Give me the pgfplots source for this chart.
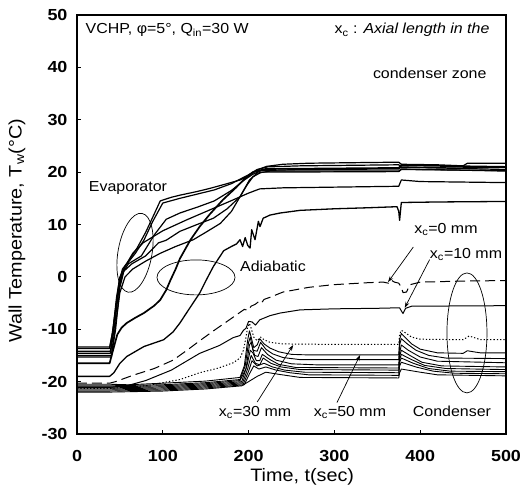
\documentclass[border=0pt]{standalone}
\usepackage{fontspec}
\setmainfont{Liberation Sans}[FakeStretch=1.1]
\newfontfamily\tickfont{Liberation Sans}[FakeStretch=1.12]
\usepackage{pgfplots}
\pgfplotsset{compat=1.18}
\usetikzlibrary{arrows.meta}
\begin{document}
\begin{tikzpicture}
\begin{axis}[
  name=ax,
  scale only axis, width=429pt, height=419pt,
  xmin=0, xmax=500, ymin=-30, ymax=50,
  xtick={0,100,...,500}, ytick={-30,-20,...,50},
  tick align=inside, tick pos=left,
  major tick length=4pt,
  axis line style={line width=1.2pt},
  every tick/.style={line width=0.8pt, black},
  /pgf/number format/assume math mode=true,
  ticklabel style={font=\tickfont\fontsize{16}{16}\selectfont\bfseries},
  yticklabel style={xshift=-6pt},
  xticklabel style={yshift=-13pt},
  xlabel={Time, t(sec)},
  ylabel={Wall Temperature, T\textsubscript{w}(°C)},
  every axis x label/.style={at={(axis description cs:0.525,-0.1026)}, anchor=center, font=\fontsize{18}{18}\selectfont},
  every axis y label/.style={at={(axis description cs:-0.1399,0.485)}, rotate=90, anchor=center, font=\fontsize{18}{18}\selectfont},
  every axis plot/.append style={black, line width=1pt, line join=round, no markers},
  clip=true,
]
% Evaporator
\addplot[line width=1.2pt] coordinates {(0,-13.4)(38,-13.4)(41,-11)(45,-6)(49,-1)(53,1.5)(60,3)(70,5.5)(80,8.5)(90,12)(97,14.5)(110,15.2)(120,15.6)(140,16.3)(155,16.9)(175,17.8)(190,18.5)(200,19.3)(210,20.4)(221,21.1)(240,21.5)(270,21.7)(320,21.8)(375,21.9)(378,21.5)(420,21.4)(450,21.2)(455,21.7)(500,21.7)};
\addplot[line width=1.2pt] coordinates {(0,-13.7)(38,-13.7)(42,-10)(46,-4)(50,0)(56,2)(68,4.5)(78,7)(88,10.5)(100,14.1)(120,15)(140,15.8)(160,16.6)(180,17.8)(200,19.5)(210,20.5)(222,21)(260,21.2)(375,21.4)(378,20.9)(440,20.8)(500,20.9)};
\addplot[line width=1.2pt] coordinates {(0,-14.2)(39,-14.2)(43,-9)(48,-3)(52,0.5)(60,2.5)(75,4)(90,8)(104,11)(120,12.2)(140,13.3)(160,14.5)(180,16.5)(195,18.5)(205,19.6)(215,20.3)(260,20.5)(375,20.6)(378,21)(420,20.8)(500,20.5)};
\addplot[line width=1.2pt] coordinates {(0,-14.6)(39,-14.6)(44,-9)(49,-2)(54,1)(64,2.5)(80,4)(95,6.5)(104,7)(120,8.7)(140,10)(159,11.2)(175,13)(190,15.3)(201,18.5)(210,19.8)(225,20.2)(375,20.2)(378,20.6)(500,20.2)};
\addplot[line width=1.2pt] coordinates {(0,-15)(40,-15)(45,-9)(50,-3)(56,0)(65,1.5)(80,3)(97,4.5)(115,5.8)(135.6,7.1)(150,8.5)(167,10.2)(180,12.5)(190,15.3)(198,17.5)(205,19.1)(215,20)(375,20.1)(378,20.5)(500,20.3)};
\addplot[line width=1.2pt] coordinates {(0,-15.3)(40,-15.3)(45,-10)(50,-2)(56,2)(65,4.5)(77,6.5)(100,8.8)(128,10.9)(155,12.8)(182,14.7)(200,16)(213,16.8)(240,17)(375,17.3)(378,18.5)(400,18.2)(500,18)};
% Adiabatic
\addplot[line width=1.7pt] coordinates {(0,-16.5)(38,-16.5)(42,-14)(47,-11)(52,-9.7)(58,-8.8)(68,-7.8)(78,-6.9)(90,-5.5)(97,-4.4)(104,-2.5)(109,-0.6)(115,1.5)(120,3.5)(132,7)(143,9.6)(155,12)(170,14.7)(185,17)(194,18.5)(205,20)(220,20.6)(375,20.8)(378,21.3)(500,21)};
\addplot[line width=1.3pt] coordinates {(0,-19)(38,-19)(43,-18.3)(50,-16.5)(58,-15.2)(78,-13.3)(101,-12)(112,-10.5)(120,-8.8)(130,-6.3)(143,-3.1)(150,-0.8)(159,2)(171,5)(180,5.8)(186,6.3)(190,7.1)(193,5.8)(196,7.5)(199,6)(201.7,5.5)(203.6,9)(207.5,7.1)(211.4,10.6)(213.3,9.6)(217,11.2)(225,11.8)(237,12.2)(260,12.7)(300,13)(340,13.2)(373,13.4)(375,12.5)(376,10.8)(377,12.5)(378,14.2)(420,14.3)(500,14.4)};
% x_c = 0 mm (dashed)
\addplot[line width=1pt, dash pattern=on 10pt off 5pt] coordinates {(0,-20.3)(38,-20.3)(45,-20)(65,-18.8)(90,-17.5)(112,-15.9)(130,-13.8)(143,-12.2)(160,-10.2)(182,-7.7)(195,-6.2)(199,-6.4)(203,-5.6)(208,-5.2)(212,-4.7)(215,-5)(218,-4.3)(225,-3.9)(240,-2.9)(270,-2)(298,-1.5)(340,-1.1)(357,-1)(363,-1.2)(366,-0.6)(370,-1)(375,-1.2)(378,-2)(380,-3)(384,-2.9)(388,-1.5)(400,-1)(450,-0.8)(500,-0.7)};
% x_c = 10 mm
\addplot[line width=1pt] coordinates {(0,-21.1)(38,-21.1)(60,-20.7)(80,-19.8)(110,-17.8)(143,-14.6)(166,-13.1)(182,-11.6)(190,-11.2)(194,-10.2)(197,-9.8)(200,-8.5)(204,-8.6)(208,-9.2)(213,-8.2)(225,-7.4)(237,-6.9)(260,-6.3)(300,-6.1)(350,-6)(376,-5.9)(378,-6.5)(380,-7)(383,-6)(390,-5.6)(500,-5.5)};
% x_c = 30 mm (dotted)
\addplot[line width=1pt, dash pattern=on 1.3pt off 2pt] coordinates {(0,-21.3)(38,-21.3)(80,-20.8)(120,-19.6)(143,-18.3)(165,-17.4)(182,-16.4)(190,-15.5)(194,-14)(197,-11.5)(199,-9.5)(201,-8.9)(203,-9.8)(206,-11.5)(210,-12.2)(214,-11.5)(218,-12)(225,-12.5)(240,-12.8)(300,-12.9)(375,-12.9)(376,-11)(378,-10.2)(382,-10.6)(390,-11.5)(400,-11.9)(450,-12)(457,-11.3)(463,-11.6)(470,-12)(500,-12)};
% Condenser
\addplot[line width=0.9pt] coordinates {(0,-20.5)(38,-20.5)(60,-20.6)(100,-20.3)(150,-19.9)(190,-19.2)(195,-17)(199,-12)(201,-10.3)(203,-11.5)(206,-13.5)(210,-13)(213,-11.8)(218,-12.8)(225,-13.6)(235,-14.3)(250,-14.8)(270,-14.9)(375,-14.9)(376,-12)(378,-10.8)(382,-11.5)(390,-12.8)(400,-13.8)(420,-14.5)(450,-14.6)(455,-14.1)(462,-14.3)(470,-14.5)(500,-14.5)};
\addplot[line width=0.9pt] coordinates {(0,-20.8)(38,-20.8)(100,-20.6)(150,-20.2)(190,-19.6)(196,-17)(200,-12.5)(202,-11.5)(205,-14)(210,-14.2)(214,-12.5)(220,-13.8)(228,-14.7)(240,-15.4)(260,-15.8)(375,-15.8)(376,-13)(378,-11.8)(385,-12.8)(395,-14)(410,-15)(430,-15.5)(500,-15.6)};
\addplot[line width=0.9pt] coordinates {(0,-21)(38,-21)(100,-20.8)(150,-20.4)(190,-19.8)(197,-17.5)(201,-13)(203,-12.5)(207,-15)(211,-15.2)(215,-13.5)(222,-14.8)(232,-15.9)(250,-16.6)(280,-16.8)(375,-16.8)(376,-14.5)(378,-13)(386,-14)(400,-15.3)(420,-16.1)(500,-16.4)};
\addplot[line width=0.9pt] coordinates {(0,-21.2)(38,-21.2)(100,-21)(150,-20.6)(192,-20)(198,-17)(202,-14)(205,-14.5)(209,-16)(213,-16)(216,-14.8)(225,-15.8)(235,-16.7)(255,-17.3)(375,-17.4)(376,-15.2)(378,-14)(388,-15)(402,-16.3)(425,-17)(500,-17.2)};
\addplot[line width=0.9pt] coordinates {(0,-21.4)(38,-21.4)(100,-21.2)(150,-20.8)(193,-20.2)(199,-17.5)(203,-15)(208,-16.5)(213,-16.8)(217,-15.5)(226,-16.5)(238,-17.2)(260,-17.7)(375,-17.8)(376,-15.8)(378,-14.8)(390,-15.8)(405,-16.9)(430,-17.5)(500,-17.7)};
\addplot[line width=0.9pt] coordinates {(0,-21.6)(38,-21.6)(100,-21.4)(150,-21)(194,-20.4)(200,-18)(204,-16)(210,-17)(218,-16.5)(228,-17.2)(242,-17.8)(265,-18.2)(375,-18.3)(376,-16.3)(378,-15.5)(392,-16.5)(410,-17.5)(435,-18)(500,-18.1)};
\addplot[line width=0.9pt] coordinates {(0,-21.8)(38,-21.8)(100,-21.6)(150,-21.2)(195,-20.6)(201,-18.5)(206,-17)(212,-17.6)(220,-17.2)(232,-17.8)(248,-18.3)(270,-18.7)(375,-18.8)(376,-17)(378,-16.3)(395,-17.2)(415,-18)(440,-18.4)(500,-18.5)};
\addplot[line width=0.9pt] coordinates {(0,-22)(38,-22)(100,-21.8)(150,-21.4)(192,-20.8)(200,-20)(210,-19)(220,-18.2)(235,-18.6)(260,-19.2)(375,-19.3)(376,-18.3)(378,-17.6)(400,-18.2)(420,-18.7)(500,-18.9)};
% annotations
\begin{scope}[font=\fontsize{14.5}{16}\selectfont]
\node[anchor=west] at (axis cs:6,47.1) {VCHP, φ=5°, Q\textsubscript{in}=30 W};
\node[anchor=east] at (axis cs:484.8,47.1) {x\textsubscript{c} : \textit{Axial length in the}};
\node[anchor=east] at (axis cs:481.4,38.9) {condenser zone};
\node at (axis cs:59.4,17.0) {Evaporator};
\node at (axis cs:228.4,2.1) {Adiabatic};
\node at (axis cs:430,9.0) {x\textsubscript{c}=0 mm};
\node at (axis cs:453.4,4.2) {x\textsubscript{c}=10 mm};
\node at (axis cs:207.5,-25.95) {x\textsubscript{c}=30 mm};
\node at (axis cs:318.2,-25.95) {x\textsubscript{c}=50 mm};
\node at (axis cs:437,-25.6) {Condenser};
\end{scope}
\draw[line width=0.7pt] (axis cs:67.6,4.6) circle [x radius=17pt, y radius=40pt, rotate=-10];
\draw[line width=0.7pt] (axis cs:138.7,-0.1) circle [x radius=39pt, y radius=17.5pt];
\draw[line width=0.7pt] (axis cs:454.5,-10.7) circle [x radius=20pt, y radius=60pt];
\draw[line width=0.7pt,-{Stealth[length=6pt,width=4pt]}] (axis cs:210,-23.9) -- (axis cs:252,-13);
\draw[line width=0.7pt,-{Stealth[length=6pt,width=4pt]}] (axis cs:303,-24) -- (axis cs:330,-14.9);
\draw[line width=0.7pt,-{Stealth[length=6pt,width=4pt]}] (axis cs:392,5.7) -- (axis cs:362.5,-1);
\draw[line width=0.7pt,-{Stealth[length=6pt,width=4pt]}] (axis cs:411,3.3) -- (axis cs:382,-5.9);
\end{axis}
\pgfresetboundingbox
\path (ax.south west) ++(-77pt,-66pt) rectangle ++(521pt,500pt);
\end{tikzpicture}
\end{document}
